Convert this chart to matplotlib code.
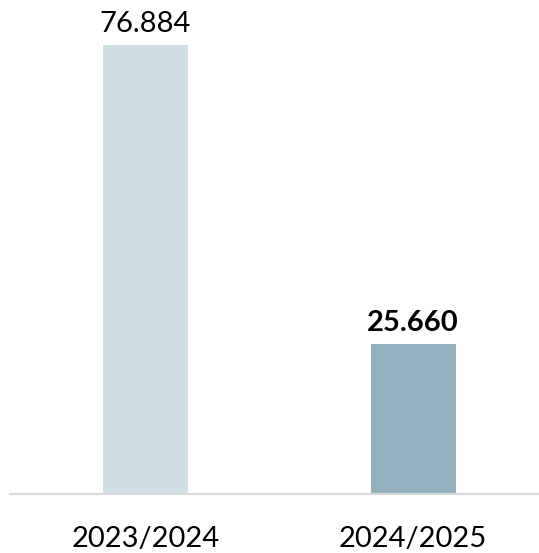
import matplotlib.pyplot as plt

# season totals
seasons = ["2023/2024", "2024/2025"]
values = [76.884, 25.660]
value_labels = ["76.884", "25.660"]
bar_colors = ["#D0DFE6", "#95B1BF"]

plt.rcParams['font.family'] = ['Lato', 'DejaVu Sans']

fig = plt.figure(figsize=(5.39, 5.53), dpi=100)
ax = fig.add_axes([10 / 539, 59 / 553, 529 / 539, 470 / 553])

x = list(range(len(seasons)))
bars = ax.bar(x, values, width=85 / 267.5, color=bar_colors, zorder=2)

ax.set_xlim(-0.5065, 1.471)
ax.set_ylim(0, 80.5)

labels = ax.bar_label(bars, labels=value_labels, padding=6, fontsize=21, color="black")
labels[1].set_fontweight("bold")

ax.set_xticks(x)
ax.set_xticklabels(seasons, fontsize=21)
ax.tick_params(axis="x", length=0, pad=23)
ax.set_yticks([])

for side in ["top", "right", "left"]:
    ax.spines[side].set_visible(False)
ax.spines["bottom"].set_color("#D9D9D9")
ax.spines["bottom"].set_linewidth(1.5)

fig.savefig("out.png", dpi=100)
